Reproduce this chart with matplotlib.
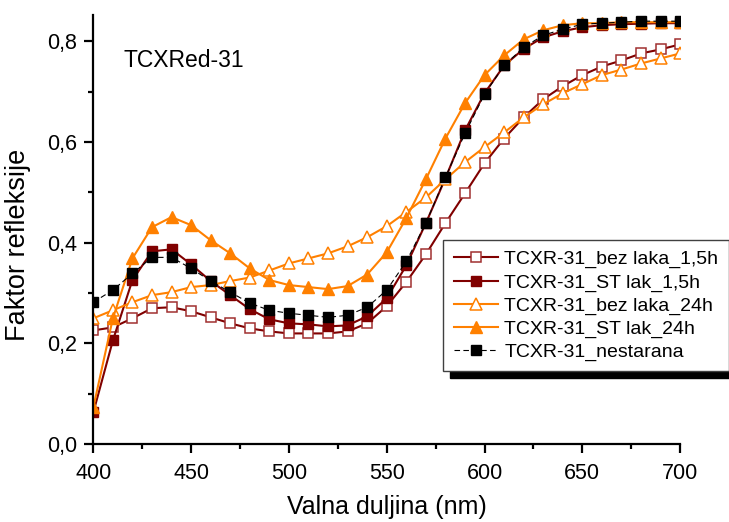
import numpy as np
import matplotlib.pyplot as plt
from matplotlib.ticker import MultipleLocator, FuncFormatter

# wavelengths 400..700 nm, step 10
wavelength = list(range(400, 701, 10))

bez_laka_15h = [0.226, 0.232, 0.250, 0.270, 0.272, 0.264, 0.252, 0.240, 0.230, 0.224,
                0.220, 0.220, 0.220, 0.224, 0.240, 0.274, 0.322, 0.377, 0.439, 0.498,
                0.558, 0.607, 0.649, 0.685, 0.711, 0.733, 0.750, 0.762, 0.776, 0.784, 0.794]
st_lak_15h = [0.063, 0.206, 0.326, 0.383, 0.387, 0.357, 0.324, 0.296, 0.268, 0.248,
              0.240, 0.238, 0.234, 0.236, 0.254, 0.290, 0.355, 0.439, 0.528, 0.623,
              0.697, 0.752, 0.785, 0.808, 0.820, 0.828, 0.832, 0.834, 0.835, 0.836, 0.836]
bez_laka_24h = [0.250, 0.266, 0.282, 0.296, 0.302, 0.312, 0.316, 0.324, 0.331, 0.345,
                0.359, 0.369, 0.379, 0.393, 0.411, 0.433, 0.461, 0.490, 0.526, 0.560,
                0.590, 0.619, 0.649, 0.675, 0.697, 0.715, 0.733, 0.744, 0.756, 0.766, 0.776]
st_lak_24h = [0.073, 0.250, 0.369, 0.431, 0.451, 0.435, 0.405, 0.379, 0.349, 0.326,
              0.316, 0.312, 0.308, 0.314, 0.337, 0.381, 0.449, 0.526, 0.607, 0.677,
              0.733, 0.772, 0.804, 0.822, 0.832, 0.836, 0.836, 0.838, 0.838, 0.838, 0.838]
nestarana = [0.282, 0.306, 0.339, 0.371, 0.371, 0.349, 0.324, 0.302, 0.280, 0.266,
             0.260, 0.256, 0.252, 0.256, 0.272, 0.306, 0.363, 0.439, 0.530, 0.617,
             0.695, 0.752, 0.788, 0.812, 0.824, 0.834, 0.836, 0.838, 0.840, 0.840, 0.840]

labels = ['TCXR-31_bez laka_1,5h', 'TCXR-31_ST lak_1,5h', 'TCXR-31_bez laka_24h',
          'TCXR-31_ST lak_24h', 'TCXR-31_nestarana']

dark_red = '#800000'
orange = '#ff8000'

plt.rcParams['font.family'] = ['Liberation Sans', 'DejaVu Sans']

fig = plt.figure(figsize=(7.29, 5.22), dpi=100)
ax = fig.add_axes([0.128, 0.149, 0.805, 0.822])

ax.plot(wavelength, bez_laka_15h, color=dark_red, lw=1.5, marker='s', ms=7,
        mfc='white', mec='#a03030', mew=1.1, label=labels[0])
ax.plot(wavelength, st_lak_15h, color=dark_red, lw=1.5, marker='s', ms=7,
        mfc=dark_red, mec=dark_red, label=labels[1])
ax.plot(wavelength, bez_laka_24h, color=orange, lw=1.5, marker='^', ms=8,
        mfc='white', mec=orange, mew=1.1, label=labels[2])
ax.plot(wavelength, st_lak_24h, color=orange, lw=1.5, marker='^', ms=9,
        mfc=orange, mec=orange, label=labels[3])
ax.plot(wavelength, nestarana, color='black', lw=0.8, ls=(0, (5, 3)), marker='s', ms=7,
        mfc='black', mec='black', label=labels[4])

ax.set_xlim(400, 700)
ax.set_ylim(0, 0.852)
ax.xaxis.set_major_locator(MultipleLocator(50))
ax.xaxis.set_minor_locator(MultipleLocator(25))
ax.yaxis.set_major_locator(MultipleLocator(0.2))
ax.yaxis.set_minor_locator(MultipleLocator(0.1))
ax.yaxis.set_major_formatter(FuncFormatter(lambda v, p: f'{v:.1f}'.replace('.', ',')))

for s in ['top', 'right']:
    ax.spines[s].set_visible(False)
for s in ['left', 'bottom']:
    ax.spines[s].set_linewidth(1.6)
ax.tick_params(which='major', direction='out', length=6.5, width=1.6, labelsize=15.5)
ax.tick_params(axis='x', which='major', pad=7)
ax.tick_params(axis='y', which='major', pad=5)
ax.tick_params(which='minor', direction='out', length=3.6, width=1.6)

ax.set_xlabel('Valna duljina (nm)', fontsize=18, labelpad=8)
ax.set_ylabel('Faktor refleksije', fontsize=19.5)
ax.yaxis.set_label_coords(-0.107, 0.464)

ax.text(0.051, 0.895, 'TCXRed-31', transform=ax.transAxes, fontsize=16.5, va='center')

leg = ax.legend(loc='upper left', bbox_to_anchor=(0.596, 0.476), borderaxespad=0,
                fontsize=14, fancybox=False, edgecolor='#404040', framealpha=1,
                handlelength=2.3, handletextpad=0.3, labelspacing=0.27,
                borderpad=0.55, shadow={'ox': 5, 'oy': -5, 'color': 'black', 'alpha': 1})
leg.get_frame().set_linewidth(1.0)

fig.savefig('out.png', dpi=100)
